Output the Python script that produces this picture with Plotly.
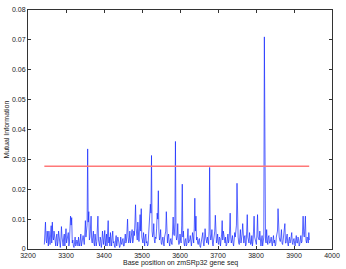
import plotly.graph_objects as go

start_pos = 3243
step = 3
# values at positions 3243, 3246, ...
mi_values = [
    0.0015, 0.009, 0.002, 0.0035, 0.006, 0.0015, 0.0078, 0.009, 0.003, 0.0045,
    0.001, 0.005, 0.0025, 0.0035, 0.0005, 0.0075, 0.002, 0.004, 0.001, 0.0068,
    0.003, 0.0055, 0.002, 0.011, 0.0105, 0.003, 0.0005, 0.004, 0.0015, 0.0025,
    0.004, 0.001, 0.005, 0.002, 0.0045, 0.0015, 0.0095, 0.006, 0.0335, 0.0125,
    0.004, 0.011, 0.002, 0.006, 0.001, 0.0035, 0.0025, 0.011, 0.002, 0.004,
    0.0005, 0.006, 0.0015, 0.0062, 0.003, 0.001, 0.0095, 0.004, 0.0055, 0.001,
    0.006, 0.0025, 0.0005, 0.0045, 0.002, 0.003, 0.0005, 0.004, 0.0015, 0.0035,
    0.001, 0.005, 0.0025, 0.010, 0.002, 0.006, 0.0035, 0.0065, 0.003, 0.0045,
    0.0148, 0.005, 0.009, 0.0025, 0.0115, 0.0135, 0.003, 0.0055, 0.001, 0.005,
    0.0025, 0.0015, 0.010, 0.015, 0.0313, 0.004, 0.0085, 0.002, 0.0035, 0.012,
    0.0195, 0.003, 0.0065, 0.0015, 0.004, 0.001, 0.005, 0.0125, 0.002, 0.005,
    0.001, 0.0035, 0.0015, 0.0107, 0.0045, 0.036, 0.003, 0.0085, 0.0015, 0.005,
    0.002, 0.0217, 0.006, 0.001, 0.0035, 0.0015, 0.0068, 0.0025, 0.0045, 0.001,
    0.0055, 0.002, 0.017, 0.011, 0.004, 0.0015, 0.0035, 0.0005, 0.003, 0.0055,
    0.001, 0.0068, 0.0025, 0.004, 0.0015, 0.0273, 0.003, 0.0065, 0.001, 0.0045,
    0.0113, 0.002, 0.005, 0.0015, 0.0035, 0.0025, 0.0095, 0.006, 0.0025, 0.004,
    0.0015, 0.005, 0.003, 0.012, 0.002, 0.0045, 0.001, 0.0055, 0.0075, 0.022,
    0.004, 0.0015, 0.0065, 0.003, 0.0085, 0.002, 0.0045, 0.0015, 0.0115, 0.003,
    0.0055, 0.0015, 0.0045, 0.0025, 0.011, 0.003, 0.0015, 0.0115, 0.0035, 0.006,
    0.001, 0.0045, 0.002, 0.071, 0.003, 0.0065, 0.0015, 0.0045, 0.002, 0.004,
    0.001, 0.0045, 0.003, 0.0015, 0.0055, 0.0135, 0.004, 0.0025, 0.0065, 0.0015,
    0.0045, 0.0085, 0.002, 0.005, 0.001, 0.004, 0.0025, 0.0055, 0.0015, 0.0035,
    0.001, 0.0045, 0.002, 0.0035, 0.0015, 0.0045, 0.0025, 0.011, 0.004, 0.011,
    0.002, 0.0035, 0.0055,
]
# values at in-between positions 3244.5, 3247.5, ...
mi_values_mid = [
    0.004, 0.003, 0.006, 0.001, 0.003, 0.005, 0.002, 0.004, 0.006, 0.002,
    0.004, 0.001, 0.006, 0.002, 0.003, 0.004, 0.001, 0.005, 0.003, 0.002,
    0.005, 0.001, 0.007, 0.008, 0.002, 0.001, 0.002, 0.001, 0.003, 0.001,
    0.002, 0.003, 0.001, 0.004, 0.003, 0.005, 0.004, 0.008, 0.009, 0.003,
    0.007, 0.003, 0.004, 0.002, 0.005, 0.001, 0.006, 0.003, 0.001, 0.003,
    0.002, 0.003, 0.004, 0.001, 0.005, 0.004, 0.002, 0.001, 0.003, 0.004,
    0.002, 0.001, 0.003, 0.001, 0.004, 0.002, 0.001, 0.002, 0.003, 0.001,
    0.003, 0.002, 0.006, 0.004, 0.003, 0.002, 0.005, 0.002, 0.006, 0.009,
    0.007, 0.003, 0.004, 0.007, 0.006, 0.004, 0.002, 0.003, 0.004, 0.002,
    0.001, 0.005, 0.009, 0.012, 0.006, 0.005, 0.003, 0.004, 0.007, 0.010,
    0.006, 0.004, 0.002, 0.003, 0.002, 0.004, 0.006, 0.003, 0.004, 0.002,
    0.003, 0.002, 0.006, 0.005, 0.009, 0.005, 0.004, 0.003, 0.002, 0.003,
    0.008, 0.004, 0.002, 0.003, 0.001, 0.004, 0.002, 0.003, 0.002, 0.003,
    0.004, 0.007, 0.006, 0.003, 0.002, 0.003, 0.001, 0.002, 0.004, 0.002,
    0.003, 0.004, 0.002, 0.003, 0.006, 0.005, 0.004, 0.002, 0.003, 0.006,
    0.004, 0.003, 0.002, 0.004, 0.001, 0.005, 0.003, 0.004, 0.002, 0.001,
    0.003, 0.002, 0.006, 0.004, 0.003, 0.002, 0.003, 0.004, 0.008, 0.006,
    0.002, 0.004, 0.002, 0.005, 0.003, 0.004, 0.001, 0.006, 0.004, 0.002,
    0.003, 0.002, 0.001, 0.006, 0.004, 0.002, 0.005, 0.004, 0.003, 0.002,
    0.003, 0.001, 0.004, 0.006, 0.002, 0.003, 0.004, 0.002, 0.003, 0.002,
    0.003, 0.002, 0.001, 0.004, 0.006, 0.004, 0.003, 0.004, 0.002, 0.003,
    0.006, 0.002, 0.004, 0.002, 0.003, 0.002, 0.004, 0.002, 0.003, 0.002,
    0.003, 0.002, 0.004, 0.001, 0.003, 0.002, 0.006, 0.005, 0.007, 0.003,
    0.004, 0.002, 0.003,
]

threshold = 0.0277
threshold_x = [3243, 3940]

x_ticks = [3200, 3300, 3400, 3500, 3600, 3700, 3800, 3900, 4000]
y_ticks = [0, 0.01, 0.02, 0.03, 0.04, 0.05, 0.06, 0.07, 0.08]
y_labels = ["0", "0.01", "0.02", "0.03", "0.04", "0.05", "0.06", "0.07", "0.08"]

xs, ys = [], []
for i, (a, b) in enumerate(zip(mi_values, mi_values_mid)):
    xs += [start_pos + step * i, start_pos + step * i + step / 2]
    ys += [a, b]

fig = go.Figure()
fig.add_trace(go.Scatter(x=xs, y=ys, mode="lines",
                         line=dict(color="rgb(20,40,255)", width=0.7),
                         showlegend=False, hoverinfo="skip"))
fig.add_trace(go.Scatter(x=threshold_x, y=[threshold, threshold], mode="lines",
                         line=dict(color="rgb(255,120,120)", width=1.3),
                         showlegend=False, hoverinfo="skip"))

font = dict(family="Liberation Sans, Arial, sans-serif", size=7, color="#222")
axis_common = dict(showgrid=False, zeroline=False, showline=True, linecolor="#333",
                   linewidth=1, mirror="ticks", ticks="inside", ticklen=3,
                   tickcolor="#333", tickfont=font)
fig.update_layout(
    width=346, height=269,
    margin=dict(l=28, r=11, t=6, b=20),
    paper_bgcolor="white", plot_bgcolor="white",
    xaxis=dict(range=[3200, 4000], tickvals=x_ticks, **axis_common),
    yaxis=dict(range=[0, 0.08], tickvals=y_ticks, ticktext=y_labels, **axis_common),
    annotations=[
        dict(text="Base position on zmSRp32 gene seq", xref="paper", yref="paper",
             x=0.5, y=-0.035, xanchor="center", yanchor="top", showarrow=False, font=font),
        dict(text="Mutual Information", xref="paper", yref="paper",
             x=-0.072, y=0.5, xanchor="center", yanchor="middle", textangle=-90,
             showarrow=False, font=font),
    ],
)
fig.write_html("out.html", config={"displayModeBar": False},
               post_script="document.body.style.margin='0';")
